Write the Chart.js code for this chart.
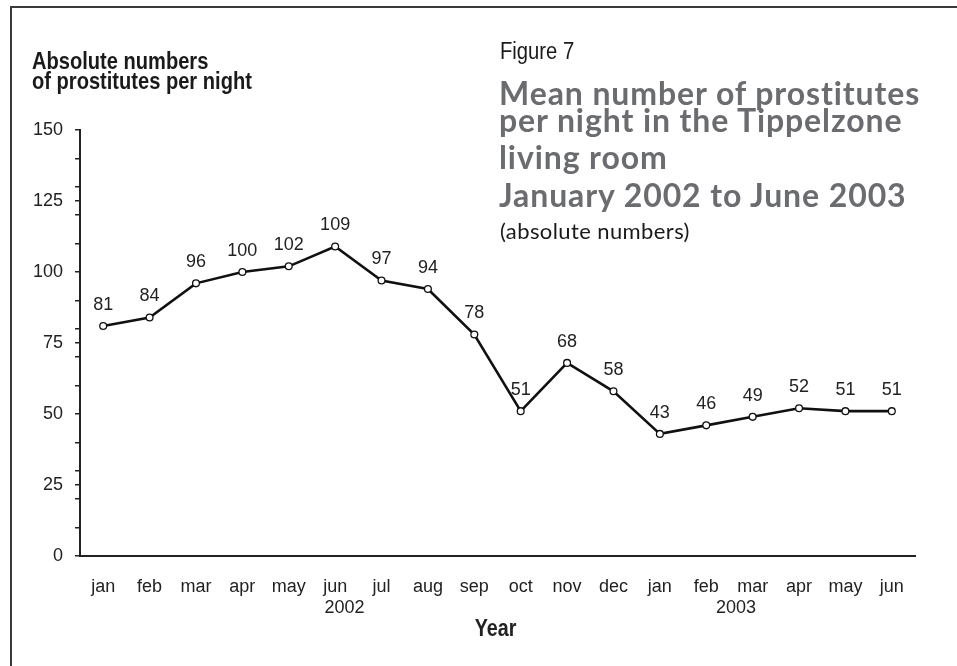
<!DOCTYPE html>
<html>
<head>
<meta charset="utf-8">
<script src="https://cdn.jsdelivr.net/npm/chart.js@4.4.1/dist/chart.umd.min.js"></script>
<style>
  html, body { margin: 0; padding: 0; background: #fff; }
  #wrap { position: relative; width: 957px; height: 666px; overflow: hidden; background: #fff; }
  #frame { position: absolute; left: 10px; top: 6px; width: 960px; height: 700px;
           border-top: 2px solid #3a3a3a; border-left: 2px solid #3a3a3a; }
  canvas { position: absolute; left: 0; top: 0; }
  .t { position: absolute; white-space: nowrap; line-height: 1; }
  .narrow { font-family: "Liberation Sans", Arial, sans-serif; transform: scaleX(0.82); transform-origin: 0 0; }
  .ytitle { font-weight: bold; font-size: 24.5px; color: #1a1a1a; left: 32px; }
  .fig { font-size: 23px; color: #1a1a1a; left: 500px; transform: scaleX(0.88); }
  .big { font-family: Lato, "Open Sans", sans-serif; font-weight: bold; font-size: 32px;
         letter-spacing: 0.9px; color: #6b6c70; left: 499px; }
  .sub { font-family: Lato, "Open Sans", sans-serif; font-size: 22px; letter-spacing: 0.4px;
         color: #1a1a1a; left: 500px; }
</style>
</head>
<body>
<div id="wrap">
  <div id="frame"></div>
  <canvas id="c" width="957" height="666"></canvas>
  <div class="t narrow ytitle" style="top:49px">Absolute numbers</div>
  <div class="t narrow ytitle" style="top:69px">of prostitutes per night</div>
  <div class="t narrow fig" style="top:40px">Figure 7</div>
  <div class="t big" style="top:77px">Mean number of prostitutes</div>
  <div class="t big" style="top:104px">per night in the Tippelzone</div>
  <div class="t big" style="top:141px">living room</div>
  <div class="t big" style="top:179px">January 2002 to June 2003</div>
  <div class="t sub" style="top:220px">(absolute numbers)</div>
</div>
<script>
// ---- data ----
const months = ["jan","feb","mar","apr","may","jun","jul","aug","sep","oct","nov","dec",
                "jan","feb","mar","apr","may","jun"];
const prostitutesPerNight = [81,84,96,100,102,109,97,94,78,51,68,58,43,46,49,52,51,51];
const yearLabels = ["2002","2003"];
const yearLabelIndex = [5.2, 13.64];   // category position under which each year label sits
const yTickValues = [0,10,20,25,30,40,50,60,70,75,80,90,100,110,120,125,130,140,150];
const yLabelStep = 25;
const xAxisTitle = "Year";

const tickFont = { family: "'Liberation Sans', Arial, sans-serif", size: 18 };
const ink = "#222";

const overlay = {
  id: "overlay",
  afterDatasetsDraw(chart) {
    const ctx = chart.ctx;
    const meta = chart.getDatasetMeta(0);
    const xs = chart.scales.x;
    ctx.save();
    ctx.fillStyle = ink;
    ctx.font = "18px 'Liberation Sans', Arial, sans-serif";
    ctx.textAlign = "center";
    ctx.textBaseline = "middle";
    meta.data.forEach((pt, i) => {
      ctx.fillText(String(prostitutesPerNight[i]), pt.x, pt.y - 21);
    });
    yearLabels.forEach((lab, i) => {
      ctx.fillText(lab, xs.getPixelForValue(yearLabelIndex[i]), 608);
    });
    ctx.font = "bold 24px 'Liberation Sans', Arial, sans-serif";
    ctx.translate((chart.chartArea.left + chart.chartArea.right) / 2 - 2, 629);
    ctx.scale(0.82, 1);
    ctx.fillText(xAxisTitle, 0, 0);
    ctx.restore();
  }
};

new Chart(document.getElementById("c"), {
  type: "line",
  data: {
    labels: months,
    datasets: [{
      data: prostitutesPerNight,
      borderColor: "#111",
      borderWidth: 2.6,
      tension: 0,
      pointStyle: "circle",
      pointRadius: 3.4,
      pointBorderWidth: 1.3,
      pointBackgroundColor: "#fff",
      pointBorderColor: "#111"
    }]
  },
  options: {
    responsive: false,
    animation: false,
    devicePixelRatio: 1,
    layout: { padding: { left: 0, top: 130, right: 42, bottom: 0 } },
    plugins: { legend: { display: false }, tooltip: { enabled: false } },
    scales: {
      x: {
        type: "category",
        offset: true,
        grid: { display: false },
        border: { display: true, color: ink, width: 2 },
        ticks: { font: tickFont, color: ink, padding: 12, maxRotation: 0, autoSkip: false },
        afterFit(s) { s.height = 110; }
      },
      y: {
        min: 0, max: 150,
        afterBuildTicks(s) { s.ticks = yTickValues.map(v => ({ value: v })); },
        grid: { display: true, drawOnChartArea: false, drawTicks: true, tickLength: 5,
                color: ink, lineWidth: 1.5 },
        border: { display: true, color: ink, width: 2 },
        ticks: {
          font: tickFont, color: ink, padding: 12, autoSkip: false,
          callback: v => (v % yLabelStep === 0 ? String(v) : "")
        },
        afterFit(s) { s.width = 80; }
      }
    }
  },
  plugins: [overlay]
});
</script>
</body>
</html>
